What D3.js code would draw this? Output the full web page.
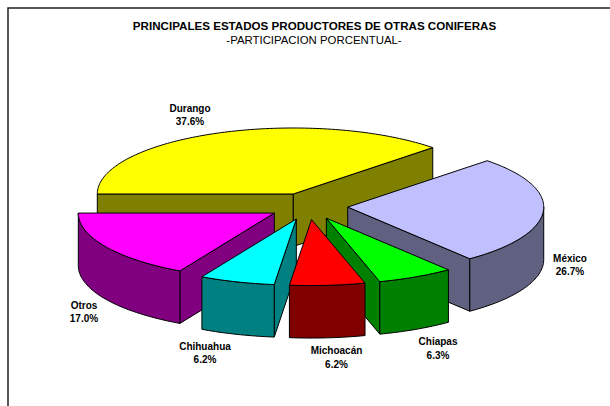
<!DOCTYPE html>
<html><head><meta charset="utf-8">
<style>html,body{margin:0;padding:0;background:#fff}svg{display:block}text{font-family:"Liberation Sans",Arial,sans-serif;fill:#000}</style>
<script src="https://cdnjs.cloudflare.com/ajax/libs/d3/7.8.5/d3.min.js"></script>
</head><body><script>
const titleText = "PRINCIPALES ESTADOS PRODUCTORES DE OTRAS CONIFERAS";
const subtitleText = "-PARTICIPACION PORCENTUAL-";
const categories = ["Durango","México","Chiapas","Michoacán","Chihuahua","Otros"];
const values = [37.6,26.7,6.3,6.2,6.2,17.0];
const topColors = ["#ffff00","#c0c0ff","#00ff00","#ff0000","#00ffff","#ff00ff"];
const sideColors = ["#808000","#606080","#008000","#800000","#008080","#800080"];
const drawOrder = ["Durango","México","Otros","Chiapas","Chihuahua","Michoacán"];
const labelAnchors = [[190,111.5],[570,261.5],[438,345],[336.5,354],[205,349.5],[84,308.5]];

const W=610,H=406, cx=308.3, cy=206.3, rx=196, ry=66, depth=52.5, explode=39.5;
const svg=d3.select("body").append("svg").attr("width",W).attr("height",H);
svg.append("path").attr("d",`M8,${H}V8H${W}`).attr("fill","none").attr("stroke","#222").attr("stroke-width",1.5);

const pie=d3.pie().sort(null).value(d=>d.value).startAngle(-Math.PI/2).endAngle(1.5*Math.PI);
const slices=pie(categories.map((name,i)=>({name,value:values[i],i})));
const xs=d3.scaleLinear().domain([-1,1]).range([-rx,rx]);
const ys=d3.scaleLinear().domain([-1,1]).range([-ry,ry]);
const line=d3.line();
const arcPts=(o,a0,a1,dy)=>{const n=Math.max(2,Math.ceil(Math.abs(a1-a0)/0.02));
  return d3.range(n+1).map(k=>{const a=a0+(a1-a0)*k/n;return [o[0]+xs(Math.sin(a)),o[1]-ys(Math.cos(a))+dy];});};
const g=svg.append("g").attr("stroke","#000").attr("stroke-width",1).attr("stroke-linejoin","round");
const byName=new Map(slices.map(s=>[s.data.name,s]));
const face=(pts,fill)=>g.append("path").attr("d",line(pts)+"Z").attr("fill",fill);
drawOrder.forEach(name=>{
  const s=byName.get(name),i=s.data.i,mid=(s.startAngle+s.endAngle)/2;
  const o=[cx+explode*Math.sin(mid),cy-explode*ry/rx*Math.cos(mid)];
  const side=sideColors[i];
  const radial=a=>{const r=[o[0]+xs(Math.sin(a)),o[1]-ys(Math.cos(a))];
    face([o,r,[r[0],r[1]+depth],[o[0],o[1]+depth]],side);};
  if(Math.sin(s.startAngle)<0) radial(s.startAngle);
  if(Math.sin(s.endAngle)>0) radial(s.endAngle);
  const a0=Math.max(s.startAngle,Math.PI/2),a1=Math.min(s.endAngle,1.5*Math.PI);
  if(a1>a0) face([...arcPts(o,a0,a1,0),...arcPts(o,a1,a0,depth)],side);
  face([o,...arcPts(o,s.startAngle,s.endAngle,0)],topColors[i]);
});
svg.append("text").attr("x",314.5).attr("y",30).attr("text-anchor","middle").attr("font-size",11.6).attr("font-weight","bold").text(titleText);
svg.append("text").attr("x",314).attr("y",44).attr("text-anchor","middle").attr("font-size",11.4).text(subtitleText);
slices.forEach(s=>{const [x,y]=labelAnchors[s.data.i];
  const t=svg.append("text").attr("text-anchor","middle").attr("font-size",10).attr("font-weight","bold");
  t.append("tspan").attr("x",x).attr("y",y).text(s.data.name);
  t.append("tspan").attr("x",x).attr("y",y+13.5).text(s.data.value.toFixed(1)+"%");
});
</script></body></html>
